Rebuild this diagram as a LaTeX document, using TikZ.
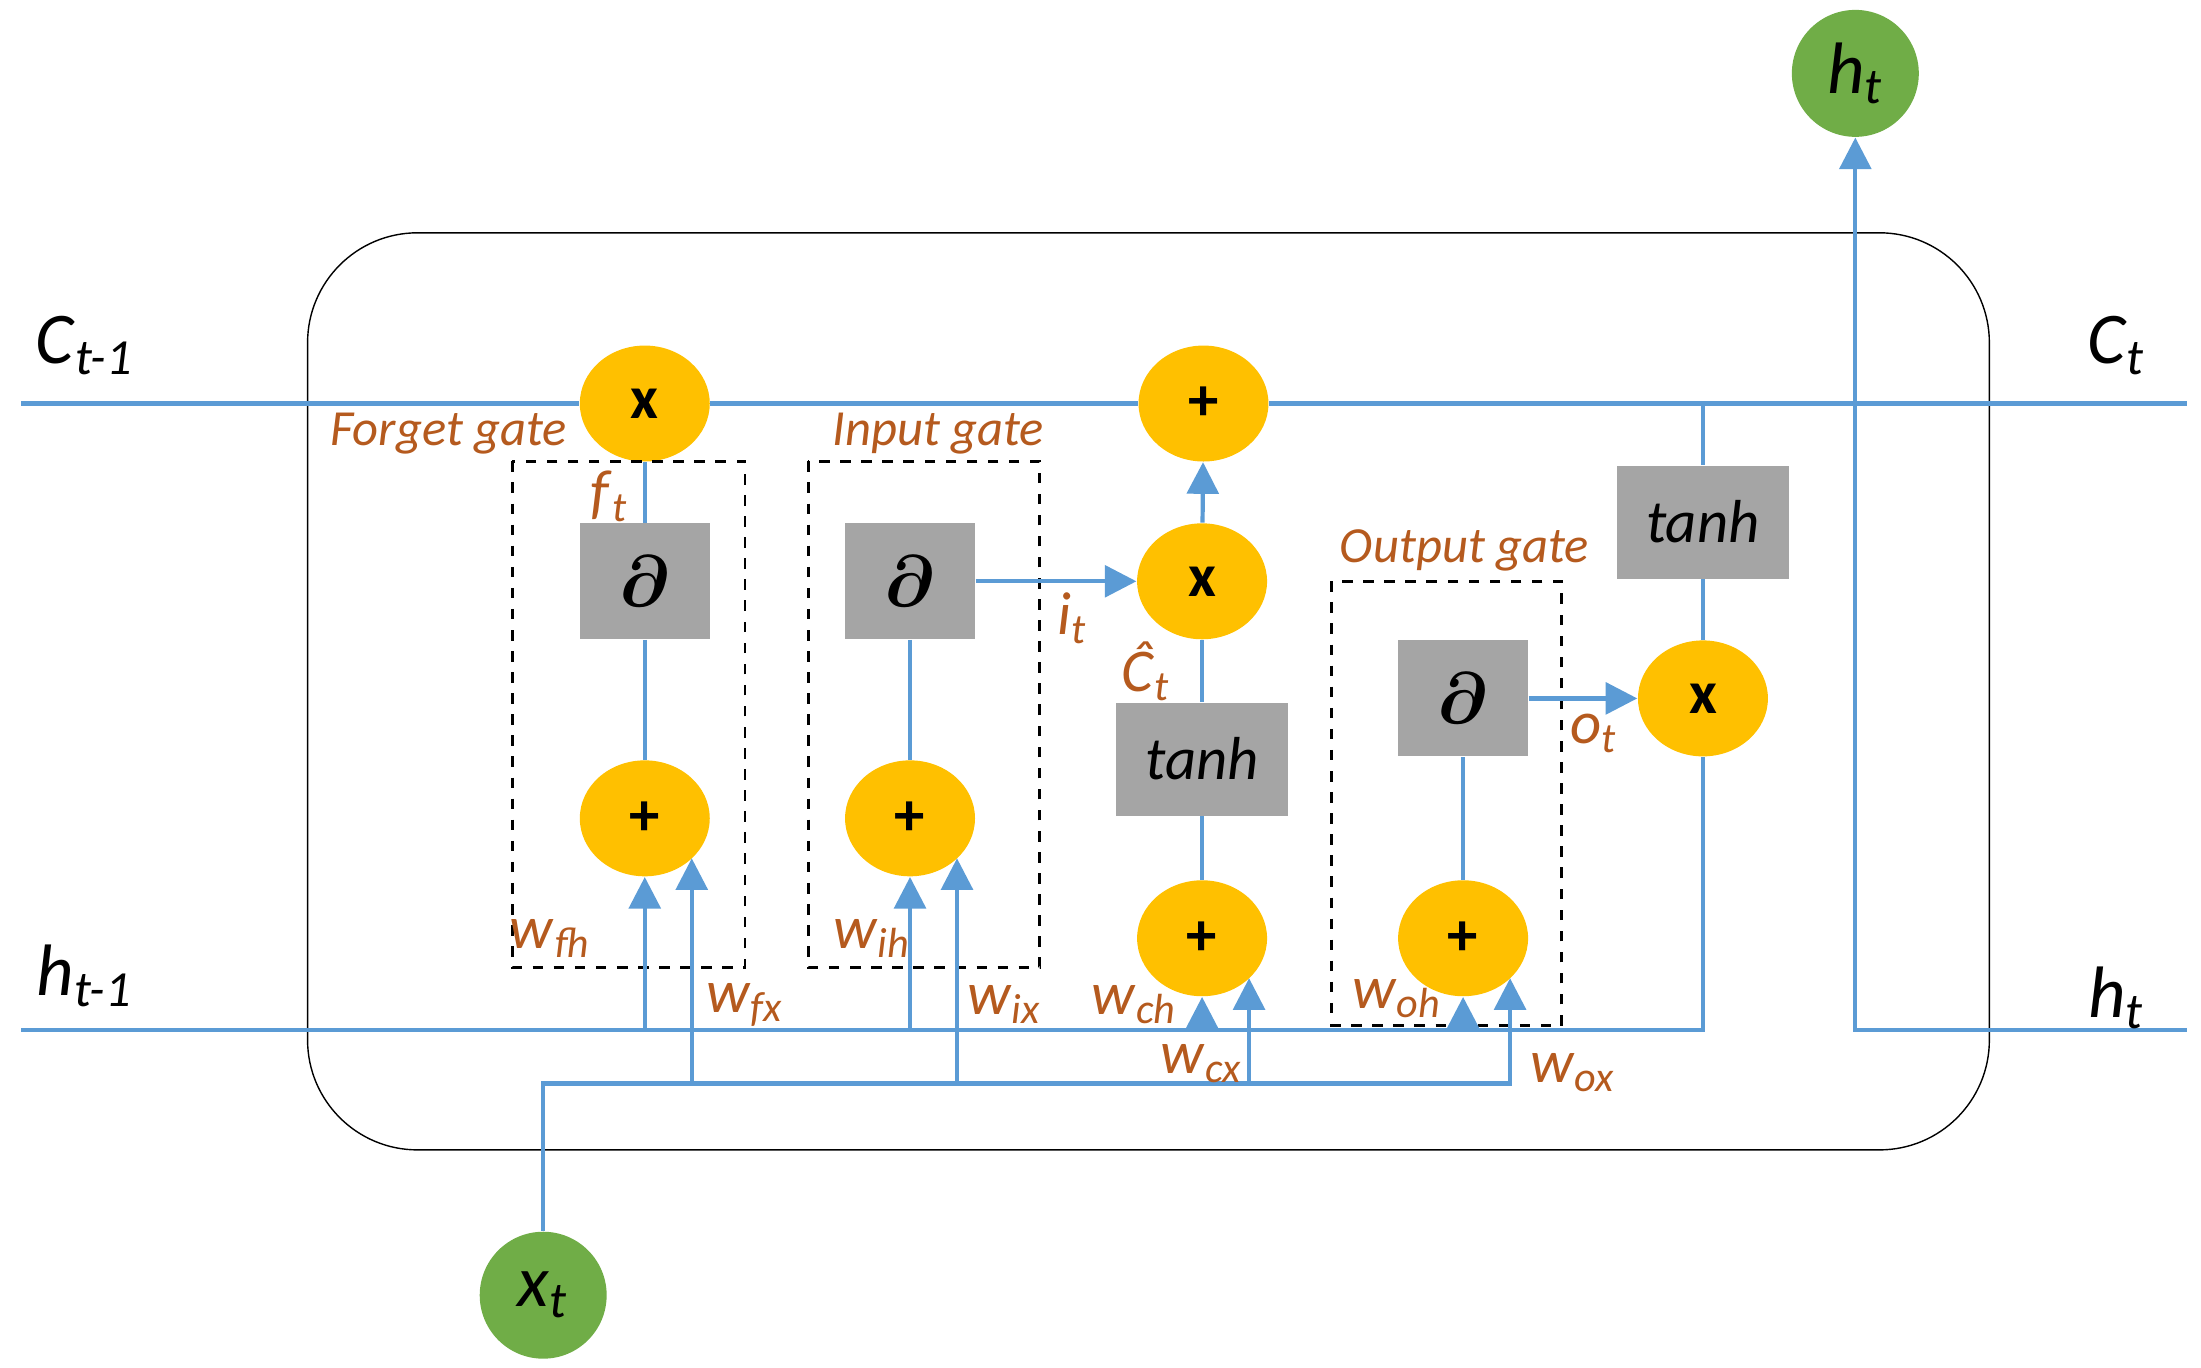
\documentclass[tikz,border=0pt]{standalone}
\usepackage{fontspec}
\setmainfont{Carlito}
\usepackage{amsmath}
\usetikzlibrary{shapes.geometric, arrows.meta}
\newcommand{\sub}[2]{\textit{#1}\textsubscript{\textit{#2}}}
\begin{document}
\begin{tikzpicture}[
      x=0.01411cm, y=-0.01411cm,
      op/.style={ellipse, fill=orange1, minimum width=1.30cm, minimum height=1.16cm, inner sep=0pt, font=\LARGE\bfseries},
      ext/.style={circle, fill=green1, minimum size=1.27cm, inner sep=0pt, font=\huge},
      act/.style={fill=gray1, minimum width=1.30cm, minimum height=1.16cm, inner sep=0pt, font=\huge\bfseries},
      wide/.style={act, minimum width=1.72cm, minimum height=1.13cm, font=\LARGE\itshape\mdseries},
      gate/.style={draw, dashed, thick},
      flow/.style={draw=blue1, line width=1.2pt},
      arr/.style={flow, -{Triangle[length=9pt,width=9pt]}},
      lab/.style={text=brown1, font=\Large\itshape},
      wlab/.style={text=brown1, font=\LARGE},
      side/.style={font=\huge},
  ]
    \definecolor{orange1}{HTML}{FFC000}
    \definecolor{green1}{HTML}{70AD47}
    \definecolor{gray1}{HTML}{A5A5A5}
    \definecolor{blue1}{HTML}{5B9BD5}
    \definecolor{brown1}{HTML}{B55A1E}
    \useasboundingbox (0,0) rectangle (1560,969);
    % cell
    \draw[thin, rounded corners=1.1cm] (218,165) rectangle (1410,815);
    % nodes
    \node[op] (fx) at (457,286) {x};
    \node[act] (fs) at (457,412) {$\boldsymbol{\partial}$};
    \node[op] (fp) at (457,580) {+};
    \node[act] (is) at (645,412) {$\boldsymbol{\partial}$};
    \node[op] (ip) at (645,580) {+};
    \node[op] (cp) at (853,286) {+};
    \node[op] (cx) at (852,412) {x};
    \node[wide] (ct) at (852,538) {tanh};
    \node[op] (cq) at (852,665) {+};
    \node[act] (os) at (1037,495) {$\boldsymbol{\partial}$};
    \node[op] (op) at (1037,665) {+};
    \node[op] (ox) at (1207,495) {x};
    \node[wide] (ot) at (1207,370) {tanh};
    \node[ext] (xt) at (385,918) {\sub{x}{t}};
    \node[ext] (ht) at (1315,52) {\sub{h}{t}};
    % gates
    \draw[gate] (363,327) rectangle (528,686);
    \draw[gate] (573,327) rectangle (737,686);
    \draw[gate] (944,412) rectangle (1107,727);
    \node[lab] at (318,307) {Forget gate};
    \node[lab] at (665,307) {Input gate};
    \node[lab] at (1038,390) {Output gate};
    % lines
    \coordinate (cin) at (15,286);
    \coordinate (cout) at (1550,286);
    \coordinate (hin) at (15,730);
    \coordinate (hend) at (1207,730);
    \coordinate (hb) at (1315,730);
    \coordinate (hout) at (1550,730);
    \coordinate (xb) at (385,768);
    \coordinate (xe) at (1072,768);
    \coordinate (ctap) at (1207,286);
    \draw[flow] (cin) -- (fx) -- (cp) -- (cout);
    \draw[flow] (hin) -- (hend) -- (ox);
    \draw[flow] (ctap) -- (ot) -- (ox);
    \draw[arr] (hout) -- (hb) -- (ht);
    \draw[flow] (xt) -- (xb) -- (xe);
    \draw[flow] (fx) -- (fs) -- (fp);
    \draw[flow] (is) -- (ip);
    \draw[arr] (is) -- (cx);
    \draw[arr] (cx) -- (cp);
    \draw[flow] (cx) -- (ct) -- (cq);
    \draw[flow] (os) -- (op);
    \draw[arr] (os) -- (ox);
    % inputs to the sums
    \foreach \n in {fp, ip, cq, op}
      \draw[arr] (\n |- hend) -- (\n.south);
    \foreach \n in {fp, ip, cq, op}
      \draw[arr] ([xshift=0.47cm]\n.center |- xe) -- ([xshift=0.47cm, yshift=-0.40cm]\n.center);
    % labels
    \node[side] at (60,245) {\sub{C}{t-1}};
    \node[side] at (1500,245) {\sub{C}{t}};
    \node[side] at (60,692) {\sub{h}{t-1}};
    \node[side] at (1500,707) {\sub{h}{t}};
    \node[wlab] at (432,352) {\sub{f}{t}};
    \node[wlab] at (760,438) {\sub{i}{t}};
    \node[wlab] at (812,476) {\textit{\^{C}}\textsubscript{\textit{t}}};
    \node[wlab] at (1130,520) {\sub{o}{t}};
    \node[wlab] at (390,665) {\sub{w}{fh}};
    \node[wlab] at (528,712) {\sub{w}{fx}};
    \node[wlab] at (618,665) {\sub{w}{ih}};
    \node[wlab] at (712,712) {\sub{w}{ix}};
    \node[wlab] at (804,712) {\sub{w}{ch}};
    \node[wlab] at (852,754) {\sub{w}{cx}};
    \node[wlab] at (990,708) {\sub{w}{oh}};
    \node[wlab] at (1115,760) {\sub{w}{ox}};
  \end{tikzpicture}
\end{document}
